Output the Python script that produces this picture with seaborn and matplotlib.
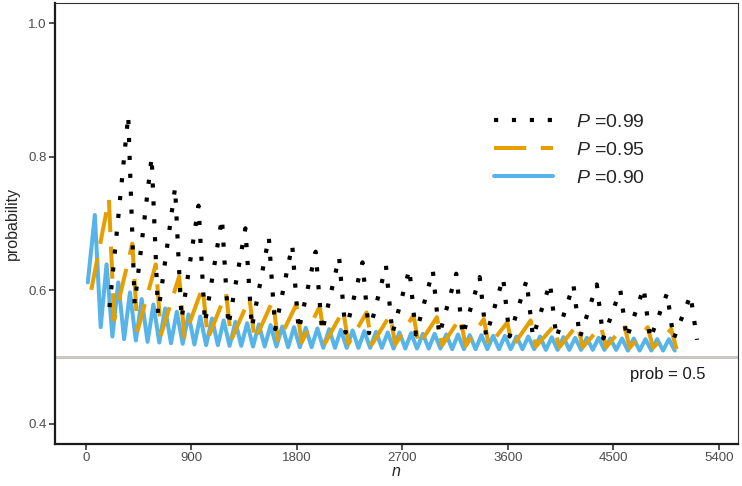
import numpy as np
import pandas as pd
import matplotlib
matplotlib.use('Agg')
import matplotlib.pyplot as plt
import seaborn as sns

# ──────────────────────────────────────────────
# data (start, peaks and troughs of each sawtooth)
# ──────────────────────────────────────────────

# P = 0.90 (blue, solid)
blue_start_n = [15]
blue_start_p = [0.612]
blue_peak_n = [75, 175, 275, 375, 475, 575, 675, 775, 875, 975,
               1075, 1175, 1275, 1375, 1475, 1575, 1675, 1775, 1875, 1975,
               2075, 2175, 2275, 2375, 2475, 2575, 2675, 2775, 2875, 2975,
               3075, 3175, 3275, 3375, 3475, 3575, 3675, 3775, 3875, 3975,
               4075, 4175, 4275, 4375, 4475, 4575, 4675, 4775, 4875, 4975]
blue_peak_p = [0.713, 0.639, 0.612, 0.597, 0.587, 0.579, 0.573, 0.568, 0.564, 0.561,
               0.558, 0.555, 0.553, 0.551, 0.549, 0.548, 0.546, 0.545, 0.544, 0.543,
               0.542, 0.541, 0.540, 0.539, 0.538, 0.537, 0.537, 0.536, 0.535, 0.535,
               0.534, 0.534, 0.533, 0.533, 0.532, 0.532, 0.531, 0.531, 0.531, 0.530,
               0.530, 0.529, 0.529, 0.529, 0.528, 0.528, 0.528, 0.527, 0.527, 0.527]
blue_trough_n = [125, 225, 325, 425, 525, 625, 725, 825, 925, 1025,
                 1125, 1225, 1325, 1425, 1525, 1625, 1725, 1825, 1925, 2025,
                 2125, 2225, 2325, 2425, 2525, 2625, 2725, 2825, 2925, 3025,
                 3125, 3225, 3325, 3425, 3525, 3625, 3725, 3825, 3925, 4025,
                 4125, 4225, 4325, 4425, 4525, 4625, 4725, 4825, 4925, 5025]
blue_trough_p = [0.545, 0.531, 0.527, 0.525, 0.523, 0.522, 0.521, 0.520, 0.519, 0.518,
                 0.518, 0.517, 0.517, 0.516, 0.516, 0.516, 0.515, 0.515, 0.515, 0.514,
                 0.514, 0.514, 0.514, 0.514, 0.514, 0.513, 0.513, 0.513, 0.513, 0.513,
                 0.512, 0.512, 0.512, 0.512, 0.512, 0.512, 0.512, 0.512, 0.511, 0.511,
                 0.511, 0.511, 0.511, 0.511, 0.511, 0.510, 0.510, 0.510, 0.510, 0.510]

# P = 0.95 (orange, long dash)
orange_start_n = [45]
orange_start_p = [0.601]
orange_peak_n = [195, 395, 595, 795, 995, 1195, 1395, 1595, 1795, 1995,
                 2195, 2395, 2595, 2795, 2995, 3195, 3395, 3595, 3795, 3995,
                 4195, 4395, 4595, 4795, 4995]
orange_peak_p = [0.737, 0.670, 0.639, 0.621, 0.605, 0.596, 0.588, 0.585, 0.579, 0.576,
                 0.570, 0.567, 0.563, 0.563, 0.560, 0.559, 0.557, 0.552, 0.555, 0.547,
                 0.549, 0.546, 0.548, 0.545, 0.542]
orange_trough_n = [240, 440, 640, 840, 1040, 1240, 1440, 1640, 1840, 2040,
                   2240, 2440, 2640, 2840, 3040, 3240, 3440, 3640, 3840, 4040,
                   4240, 4440, 4640, 4840, 5040]
orange_trough_p = [0.556, 0.540, 0.534, 0.530, 0.528, 0.526, 0.525, 0.523, 0.522, 0.521,
                   0.520, 0.519, 0.519, 0.518, 0.518, 0.517, 0.517, 0.516, 0.516, 0.515,
                   0.515, 0.515, 0.514, 0.514, 0.512]

# P = 0.99 (black, dotted)
black_start_n = [200]
black_start_p = [0.575]
black_peak_n = [360, 560, 760, 960, 1160, 1360, 1560, 1760, 1960, 2160,
                2360, 2560, 2760, 2960, 3160, 3360, 3560, 3760, 3960, 4160,
                4360, 4560, 4760, 4960, 5160]
black_peak_p = [0.862, 0.800, 0.754, 0.727, 0.708, 0.693, 0.680, 0.668, 0.658, 0.650,
                0.642, 0.637, 0.632, 0.630, 0.625, 0.620, 0.619, 0.615, 0.611, 0.609,
                0.609, 0.601, 0.604, 0.596, 0.593]
black_trough_n = [415, 615, 815, 1015, 1215, 1415, 1615, 1815, 2015, 2215,
                  2415, 2615, 2815, 3015, 3215, 3415, 3615, 3815, 4015, 4215,
                  4415, 4615, 4815, 5015, 5215]
black_trough_p = [0.580, 0.565, 0.557, 0.551, 0.547, 0.544, 0.542, 0.540, 0.538, 0.537,
                  0.536, 0.535, 0.534, 0.533, 0.532, 0.531, 0.531, 0.530, 0.529, 0.529,
                  0.528, 0.528, 0.527, 0.527, 0.526]

x_ticks = [0, 900, 1800, 2700, 3600, 4500, 5400]
y_ticks = [0.4, 0.6, 0.8, 1.0]
ref_prob = 0.5


def build(label, sn, sp, pn, pp, tn, tp):
    return pd.DataFrame({'n': sn + pn + tn, 'probability': sp + pp + tp, 'P': label})


df = pd.concat([
    build('0.90', blue_start_n, blue_start_p, blue_peak_n, blue_peak_p, blue_trough_n, blue_trough_p),
    build('0.95', orange_start_n, orange_start_p, orange_peak_n, orange_peak_p, orange_trough_n, orange_trough_p),
    build('0.99', black_start_n, black_start_p, black_peak_n, black_peak_p, black_trough_n, black_trough_p),
], ignore_index=True)

# ──────────────────────────────────────────────
# style
# ──────────────────────────────────────────────
sns.set_style('ticks')
plt.rcParams['font.family'] = ['Liberation Sans', 'DejaVu Sans']
plt.rcParams['mathtext.fontset'] = 'custom'
plt.rcParams['mathtext.rm'] = 'Liberation Sans'
plt.rcParams['mathtext.it'] = 'Liberation Sans:italic'

styles = {
    '0.90': dict(color='#56B4E9', lw=2.9, ls='-'),
    '0.95': dict(color='#E69F00', lw=2.9, ls=(0, (8, 3.6))),
    '0.99': dict(color='#000000', lw=3.0, ls=(0, (1, 3.3))),
}

fig = plt.figure(figsize=(7.42, 4.86), dpi=100)
ax = fig.add_axes([55 / 742, 42 / 486, 683 / 742, 440.7 / 486])

ax.axhline(ref_prob, color='#CBC6C1', lw=2.2, zorder=1)

handles = {}
for key in ['0.90', '0.95', '0.99']:
    st = styles[key]
    sub = df[df['P'] == key]
    n_before = len(ax.lines)
    sns.lineplot(data=sub, x='n', y='probability', ax=ax, color=st['color'],
                 linewidth=st['lw'], linestyle=st['ls'], errorbar=None,
                 legend=False, zorder=2)
    line = ax.lines[n_before]
    line.set_dash_capstyle('butt')
    handles[key] = line

ax.set_xlim(-265, 5565)
ax.set_ylim(0.37, 1.03)
ax.set_xticks(x_ticks)
ax.set_xticklabels([str(v) for v in x_ticks])
ax.set_yticks(y_ticks)
ax.set_yticklabels([f'{v:.1f}' for v in y_ticks])
ax.tick_params(axis='both', length=4, width=1.2, color='#333333',
               labelsize=9.5, labelcolor='#4D4D4D', pad=2)
ax.set_xlabel('$n$', fontsize=11.5, labelpad=0)
ax.set_ylabel('probability', fontsize=11.5, labelpad=6)

for side in ['left', 'bottom']:
    ax.spines[side].set_linewidth(1.6)
    ax.spines[side].set_color('#1a1a1a')
for side in ['top', 'right']:
    ax.spines[side].set_visible(True)
    ax.spines[side].set_linewidth(0.8)
    ax.spines[side].set_color('#333333')

ax.text(4964, 0.4747, 'prob = 0.5', fontsize=12, ha='center', va='center', color='#1a1a1a')

order = ['0.99', '0.95', '0.90']
ax.legend([handles[k] for k in order], [f'$P$ =0.{k[2:]}' for k in order],
          loc='upper left', bbox_to_anchor=(0.643, 0.750), frameon=False,
          fontsize=14, handlelength=3.0, handletextpad=1.23, labelspacing=0.53,
          borderpad=0, borderaxespad=0)

fig.savefig('out.png', dpi=100)
